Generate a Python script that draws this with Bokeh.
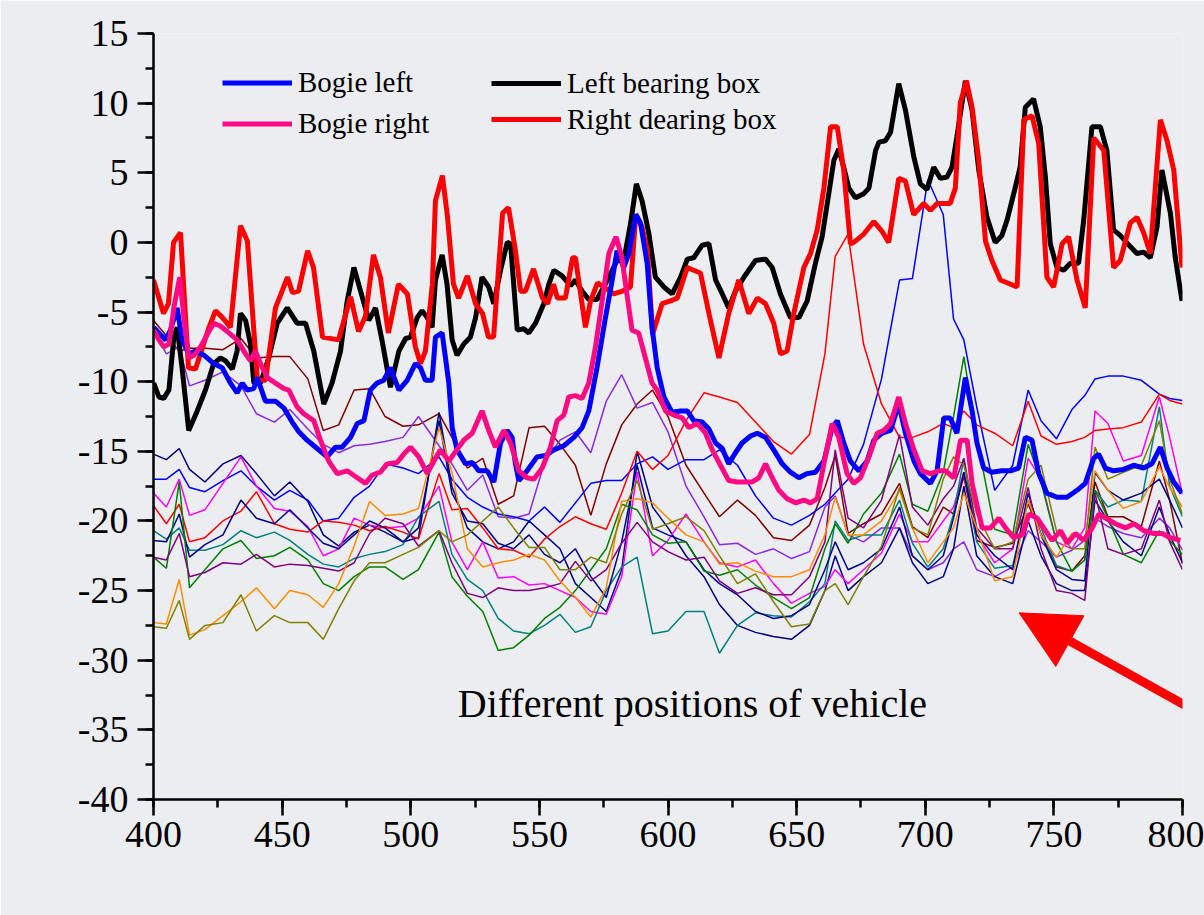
from bokeh.plotting import figure
from bokeh.models import Range1d, Legend, LegendItem, FixedTicker, Label, Arrow, NormalHead
from bokeh.embed import file_html
from bokeh.resources import INLINE

# ---------------- data ----------------
BOGIE_LEFT = [(400.1,-6.1),(402.1,-6.5),(404.7,-7.0),(406.6,-6.3),(409.2,-4.7),(411.1,-7.0),(413.7,-8.0),(416.3,-7.8),(419.6,-8.1),(423.4,-8.7),(426.7,-9.0),(429.9,-10.1),(432.5,-10.8),(434.5,-10.1),(436.4,-10.6),(439,-10.5),(440.3,-9.7),(443.5,-11.4),(447.4,-11.4),(450.7,-11.9),(453.9,-12.9),(456.5,-13.6),(459.7,-14.2),(463.6,-14.8),(467.5,-15.4),(470.7,-14.7),(473.3,-14.7),(476.6,-14.0),(479.2,-13.0),(481.8,-12.8),(484.3,-10.6),(486.9,-10.1),(489.5,-9.9),(492.1,-9.0),(495.4,-10.6),(498.6,-9.9),(501.8,-8.7),(503.8,-9.0),(505.7,-9.9),(508.3,-9.9),(509.6,-6.8),(512.2,-6.5),(514.8,-10.1),(516.1,-13.3),(518,-14.9),(521.3,-15.9),(523.9,-15.8),(526.4,-16.4),(529.7,-16.4),(532.3,-17.2),(534.9,-14.4),(537.5,-13.5),(539.4,-14.0),(540.7,-15.9),(542,-17.1),(545.2,-16.4),(549.1,-15.4),(552.4,-15.3),(555.6,-14.9),(559.5,-14.6),(563.4,-14.0),(566.6,-13.3),(569.2,-12.1),(572.4,-9.0),(575.5,-5.6),(578.3,-2.7),(580.2,-0.6),(582.8,-1.8),(584.8,-0.8),(587.5,2.0),(589.3,1.4),(591.9,-1.5),(593.8,-6.1),(595.8,-9.0),(598.4,-11.1),(601.6,-12.2),(604.9,-12.1),(607.5,-12.1),(610,-12.8),(613.3,-12.9),(615.9,-13.4),(618.5,-14.4),(621.1,-14.8),(623.6,-15.9),(626.2,-15.1),(628.8,-14.4),(632.1,-13.9),(634.7,-13.7),(637.9,-14.0),(641.1,-14.9),(644.4,-15.9),(647.6,-16.5),(650.9,-16.9),(654.1,-16.6),(657.3,-16.5),(660.6,-15.7),(663.8,-13.3),(665.8,-12.8),(668.3,-14.4),(670.9,-15.7),(674.2,-16.4),(677.4,-15.7),(680,-14.2),(683.2,-13.7),(686.5,-13.5),(689.7,-11.6),(692.3,-13.7),(695.6,-15.7),(698.1,-16.6),(702,-17.3),(704.6,-16.4),(707.2,-12.6),(709.7,-12.6),(712.3,-13.7),(715.6,-9.7),(718.2,-12.1),(720.1,-14.4),(722.7,-16.2),(725.9,-16.5),(729.8,-16.4),(733.1,-16.4),(736.3,-16.2),(738.9,-14.0),(741.5,-14.2),(744.1,-16.6),(747.3,-18.0),(751.2,-18.3),(755.1,-18.3),(759,-17.8),(762.2,-17.3),(765.5,-15.5),(767.4,-15.2),(770,-16.2),(773.2,-16.4),(777.1,-16.3),(781,-16.0),(784.9,-16.2),(788.1,-15.9),(791.4,-14.7),(794,-16.2),(796.6,-17.2),(799.8,-18.0)]

BOGIE_RIGHT = [(400.1,-6.3),(402.1,-7.0),(404,-7.5),(406,-7.3),(407.9,-4.7),(410.2,-2.5),(411.8,-5.4),(413.7,-8.3),(415.7,-8.1),(418.3,-7.5),(420.9,-6.6),(423.4,-5.8),(426,-6.0),(429.3,-6.5),(432.5,-7.0),(435.8,-8.0),(437.7,-8.5),(439.6,-7.8),(441.6,-8.7),(444.2,-9.7),(447.4,-10.1),(450.7,-10.5),(452.6,-10.6),(455.8,-11.8),(458.4,-12.3),(462.3,-12.8),(464.9,-14.2),(468.1,-15.7),(471.4,-16.6),(475.3,-16.4),(479.2,-16.9),(482.4,-17.3),(485,-16.7),(488.2,-16.5),(490.8,-15.9),(494.7,-15.8),(497.3,-15.2),(499.9,-14.7),(503.1,-15.4),(506.4,-16.6),(509,-15.7),(511.5,-14.9),(514.8,-15.7),(516.7,-15.2),(520.6,-14.2),(523.9,-13.7),(527.7,-12.1),(530.3,-13.5),(532.9,-14.7),(536.2,-13.5),(538.8,-14.4),(542,-16.4),(545.2,-16.9),(547.8,-17.0),(551.1,-16.2),(554.3,-14.7),(556.9,-12.8),(559.5,-12.4),(561.4,-11.1),(564,-11.0),(566.6,-11.2),(569.2,-10.1),(571.8,-7.5),(574.4,-4.2),(577,-0.8),(579.8,0.4),(582,-1.0),(584.1,-3.8),(586,-6.3),(588.6,-6.5),(591.2,-8.3),(593.8,-10.1),(595.8,-10.6),(599,-12.1),(602.3,-12.4),(605.5,-12.6),(608.1,-13.3),(611.3,-13.0),(614.6,-13.7),(617.2,-14.9),(620.4,-16.0),(623.6,-17.1),(626.9,-17.2),(630.1,-17.2),(632.7,-17.2),(635.3,-16.9),(637.9,-15.9),(640.5,-16.9),(643.1,-17.8),(646.3,-18.4),(649.6,-18.7),(652.8,-18.5),(655.4,-18.7),(658,-18.4),(660.6,-15.9),(663.8,-13.0),(666.4,-14.0),(669.6,-16.6),(672.2,-17.3),(674.8,-16.9),(678.1,-15.4),(681.3,-13.7),(683.9,-13.5),(686.5,-13.0),(689.7,-11.1),(692.3,-13.0),(695.6,-14.9),(698.8,-16.4),(702,-16.6),(705.3,-16.4),(707.9,-16.4),(711.1,-16.9),(713.7,-14.2),(716.3,-14.2),(718.2,-17.3),(722.1,-20.5),(725.4,-20.5),(728.6,-19.8),(731.2,-20.5),(734.4,-21.2),(737.7,-21.0),(740.3,-19.5),(743.5,-19.8),(746.7,-20.7),(749.3,-21.4),(752.6,-20.7),(755.2,-21.6),(758.4,-20.9),(761.6,-21.4),(764.9,-20.5),(767.5,-19.5),(770.1,-19.8),(773.9,-20.2),(777.8,-20.5),(781.1,-20.2),(785,-20.7),(788.8,-20.9),(792.1,-20.9),(795.3,-21.2),(799.2,-21.4)]

LEFT_BEARING = [(400.1,-10.1),(402.1,-11.1),(404,-11.2),(406,-10.6),(407.9,-6.8),(409.2,-6.1),(411.1,-9.0),(413.7,-13.5),(417,-12.1),(420.2,-10.6),(423.4,-8.7),(426,-8.3),(428,-8.5),(430.6,-9.1),(432.5,-7.8),(433.8,-5.1),(435.8,-5.6),(437.7,-7.3),(439,-10.1),(441.6,-10.1),(444.8,-8.3),(448.1,-5.8),(452,-4.7),(455.8,-5.8),(459.1,-5.8),(462.3,-7.8),(466.2,-11.6),(469.4,-10.1),(472.7,-7.8),(475.3,-4.2),(477.9,-1.8),(480.5,-3.5),(483.7,-5.6),(486.3,-4.7),(488.9,-7.1),(492.1,-10.4),(495.4,-7.8),(498,-6.9),(499.9,-6.8),(502.5,-5.4),(504.4,-4.9),(506.4,-5.4),(508.3,-6.1),(509.6,-2.7),(512.2,-0.9),(514.1,-3.0),(516.1,-7.0),(518,-8.1),(520.6,-7.3),(523.2,-6.8),(525.2,-5.4),(527.7,-2.5),(530.3,-3.2),(532.3,-4.4),(534.9,-2.0),(537.5,0.0),(538.8,-0.1),(541.4,-6.3),(543.9,-6.2),(545.9,-6.5),(548.5,-5.8),(551.7,-4.4),(553.7,-3.0),(555.6,-2.0),(558.8,-2.4),(562.1,-3.1),(564,-2.7),(566.6,-3.5),(569.2,-4.1),(572.4,-4.1),(577,-2.5),(580.2,-1.3),(582.8,-1.3),(585.4,1.3),(587.7,4.2),(589.9,3.0),(592.5,0.7),(595.1,-2.5),(598.4,-3.2),(601.6,-3.7),(604.9,-2.5),(607.5,-1.2),(610,-1.1),(613.3,-0.2),(615.9,-0.1),(618.5,-2.7),(621.1,-3.7),(623.6,-4.7),(626.2,-3.5),(629.5,-2.5),(634,-1.3),(637.9,-1.2),(640.5,-1.8),(643.7,-3.7),(647.6,-5.4),(650.9,-5.4),(654.1,-4.2),(657.3,-1.5),(659.9,0.4),(662.5,3.5),(664.5,5.9),(666.4,6.7),(668.3,5.4),(670.3,3.9),(672.9,3.2),(676.1,3.5),(678.1,3.9),(680.7,6.6),(682,7.2),(684.5,7.3),(686.5,7.9),(689.7,11.4),(692.3,9.5),(695.6,6.1),(698.1,4.2),(700.7,3.8),(703.3,5.4),(705.9,4.6),(708.5,4.7),(710.4,5.4),(712.3,7.6),(715.6,11.6),(718.2,9.5),(720.8,5.2),(724,1.8),(727.2,0.0),(729.8,0.5),(731.8,1.6),(734.4,3.5),(736.9,5.4),(738.9,9.7),(742.1,10.3),(744.7,8.3),(746.7,4.7),(748.6,-0.1),(751.2,-1.8),(753.8,-2.0),(756.4,-1.5),(759.6,-1.5),(761.6,1.6),(764.8,8.3),(768.1,8.3),(770.6,6.6),(773.2,0.9),(775.8,0.5),(779.7,-0.3),(782.3,-0.8),(784.9,-0.7),(787.5,-1.1),(790.1,1.1),(792,5.2),(795.3,2.1),(797.2,-1.1),(799.8,-4.2)]

RIGHT_BEARING = [(400,-2.7),(403.9,-5.1),(405.8,-4.4),(407.8,0.0),(410.5,0.7),(413.6,-9.0),(416.3,-9.1),(421.4,-6.2),(424.1,-4.9),(426.8,-5.4),(429.9,-6.1),(433.8,1.2),(436.5,0.1),(440.4,-9.9),(443.5,-9.9),(447.4,-4.7),(452.1,-2.5),(454,-3.6),(456.4,-3.5),(459.9,-0.6),(462.2,-1.8),(465.7,-6.8),(471.9,-7.0),(476.6,-3.9),(479.7,-6.4),(482.4,-5.3),(485.5,-0.9),(488.2,-2.5),(491.3,-6.5),(495.2,-3.0),(498.7,-3.7),(501.8,-7.5),(503.8,-8.7),(505.7,-7.8),(508.4,-3.0),(509.6,3.0),(512.3,4.8),(514.3,1.8),(516.6,-3.0),(518.6,-4.0),(522,-2.4),(525.2,-4.4),(527.9,-5.1),(530.2,-6.8),(532.2,-6.8),(535.7,2.1),(538,2.5),(540.7,-0.6),(542.7,-3.5),(544.6,-3.5),(547.7,-1.9),(551.2,-4.0),(553.2,-4.4),(555.5,-3.0),(557,-4.0),(560.1,-4.0),(562.9,-1.1),(564,-1.1),(567.9,-6.1),(569.9,-4.2),(572.6,-2.9),(575,-3.2),(579,-3.7),(582.2,-3.5),(585.4,-3.2),(587.5,2.0),(589.9,1.1),(592,-0.6),(594,-6.6),(597.7,-4.4),(601,-4.2),(603.6,-4.0),(607.5,-1.8),(610,-2.0),(612.6,-2.2),(616.5,-5.6),(619.8,-8.3),(623.6,-5.1),(627.5,-2.7),(631.4,-5.1),(634.7,-4.0),(637.9,-4.4),(641.1,-5.8),(643.7,-8.0),(646.3,-7.8),(648.9,-5.1),(652.8,-1.8),(655.4,-0.8),(658,0.9),(660.6,3.9),(663.2,8.3),(665.8,8.3),(668.3,5.2),(670.9,-0.1),(672.2,0.0),(676.1,0.6),(680,1.5),(683.2,0.8),(685.8,0.0),(689.7,4.6),(692.3,4.4),(695.5,2.0),(699.4,2.8),(702,2.3),(704.6,2.8),(709.7,2.8),(711.7,3.9),(713.6,10.0),(716,11.6),(718.2,9.7),(720.8,5.9),(723.4,0.1),(725.9,-1.3),(729.2,-2.7),(731.8,-2.9),(735.7,-3.2),(738.3,8.8),(741.5,9.1),(744.1,7.1),(747.3,-2.5),(749.9,-3.2),(753.2,-0.1),(755.7,0.4),(759,-2.7),(762.2,-4.7),(765.5,7.5),(769.4,6.6),(773.2,-1.8),(775.8,-1.3),(779.7,1.4),(782.3,1.8),(784.9,0.7),(787.5,-0.8),(791.4,8.8),(794,7.3),(796.6,5.2),(799.8,-1.8)]

# thin curves: other positions of the vehicle, sampled at common positions
POS = [400,405,410,414,420,427,434,440,447,453,460,466,472,478,484,490,497,503,511,516,522,528,534,540,546,552,558,564,570,576,582,588,594,600,607,614,620,627,634,641,648,655,661,665,670,676,683,690,695,701,707,711,715,720,727,734,740,745,751,757,762,766,771,777,784,791,795,800]

P_MAROON = [-5.6,-6.7,-7.8,-7.6,-7.6,-7.7,-6.9,-8.3,-8.2,-8.2,-9.8,-13.5,-13.1,-10.6,-10.5,-12.5,-13.2,-13.1,-12.3,-14.0,-16.2,-15.5,-18.8,-18.2,-13.3,-13.2,-14.5,-16.0,-19.6,-15.9,-13.1,-11.6,-10.6,-12.5,-16.0,-18.0,-19.7,-18.5,-19.6,-21.2,-21.4,-20.3,-17.6,-15.3,-20.9,-20.2,-19.5,-17.3,-20.4,-21.2,-19.0,-19.5,-16.8,-21.4,-21.9,-21.6,-18.8,-20.9,-23.3,-23.6,-22.5,-17.2,-19.7,-19.7,-20.4,-15.7,-18.5,-23.1]
P_VIOLET = [-6.3,-8.0,-7.5,-10.3,-9.9,-9.3,-10.3,-12.3,-12.9,-12.0,-13.4,-14.5,-15.1,-14.6,-14.5,-14.3,-14.0,-12.5,-14.6,-15.9,-17.8,-16.7,-19.7,-19.8,-19.5,-15.8,-14.2,-13.6,-15.1,-11.4,-9.5,-11.9,-11.5,-13.6,-17.5,-19.7,-21.7,-21.6,-22.4,-22.0,-22.7,-22.2,-19.0,-18.2,-21.0,-21.5,-20.5,-20.5,-22.5,-23.5,-23.0,-22.0,-21.5,-23.5,-24.0,-23.3,-20.7,-21.5,-22.6,-22.1,-21.4,-19.8,-20.4,-20.9,-21.2,-19.8,-20.5,-22.1]
P_NAVY = [-15.2,-15.6,-14.8,-16.3,-17.2,-15.9,-15.3,-16.6,-18.2,-17.2,-18.6,-21.0,-21.8,-20.8,-20.3,-20.8,-21.5,-21.2,-12.2,-17.5,-20.5,-21.5,-22.0,-21.5,-20.0,-21.0,-22.0,-24.5,-25.5,-26.5,-23.5,-15.0,-19.0,-20.5,-22.5,-24.0,-26.0,-27.5,-28.0,-28.3,-28.5,-27.5,-25.0,-22.5,-25.0,-24.0,-23.0,-20.5,-23.0,-24.5,-24.0,-22.0,-17.5,-22.5,-24.0,-24.5,-20.0,-22.5,-24.5,-25.0,-25.0,-18.5,-20.0,-21.5,-22.5,-19.0,-21.0,-23.0]
P_BLUE = [-17.0,-17.0,-16.3,-17.6,-17.9,-17.1,-16.4,-17.5,-18.5,-17.8,-18.5,-20.0,-19.8,-18.3,-17.5,-15.9,-16.2,-16.6,-15.4,-17.0,-18.3,-19.0,-19.5,-19.7,-20.0,-19.0,-20.1,-18.7,-17.3,-17.1,-17.1,-15.9,-15.4,-16.3,-15.6,-15.6,-14.9,-16.0,-18.2,-19.8,-20.3,-19.6,-18.8,-18.0,-17.0,-14.5,-9.8,-2.7,-2.6,4.5,2.0,-5.5,-7.0,-11.8,-17.8,-16.0,-10.6,-12.8,-14.1,-12.0,-11.0,-9.8,-9.6,-9.6,-9.9,-10.9,-11.2,-11.35]
P_MAGENTA = [-18.0,-19.0,-17.0,-19.6,-19.2,-17.3,-15.4,-17.5,-19.1,-19.3,-20.4,-22.5,-22.0,-19.8,-20.3,-20.5,-20.4,-19.8,-17.5,-21.5,-23.5,-21.5,-24.1,-24.0,-24.6,-24.5,-25.0,-25.5,-26.5,-26.7,-24.0,-16.5,-22.5,-21.4,-19.5,-21.5,-23.0,-23.3,-22.8,-24.5,-25.9,-25.2,-24.7,-23.5,-24.5,-23.5,-22.3,-19.5,-21.5,-21.5,-20.0,-19.0,-16.5,-21.0,-23.0,-22.0,-15.5,-17.0,-21.5,-22.0,-20.5,-12.1,-13.0,-15.7,-15.3,-11.1,-14.0,-18.1]
P_RED = [-18.9,-20.2,-18.8,-21.5,-21.2,-20.0,-19.3,-17.9,-20.2,-20.6,-20.8,-20.0,-20.1,-20.3,-20.7,-20.4,-20.8,-21.3,-16.6,-19.2,-19.1,-20.5,-22.0,-22.1,-22.6,-21.3,-20.4,-19.7,-20.2,-20.6,-18.0,-15.0,-16.3,-15.3,-12.8,-10.8,-11.1,-11.5,-12.9,-14.3,-15.2,-13.8,-8.0,-1.0,0.6,-7.3,-11.6,-14.0,-14.0,-13.6,-13.0,-13.3,-12.1,-13.1,-13.7,-14.6,-11.4,-13.9,-14.5,-14.3,-14.0,-13.5,-13.4,-13.3,-12.9,-10.9,-11.35,-11.6]
P_TEAL = [-20.7,-21.3,-20.5,-22.1,-22.1,-21.7,-20.7,-21.2,-20.8,-21.4,-22.4,-23.1,-23.3,-22.7,-22.4,-22.2,-21.7,-19.7,-18.6,-22.4,-24.2,-25.0,-27.0,-27.9,-28.1,-27.5,-26.7,-28.0,-27.6,-25.0,-23.3,-22.6,-28.1,-27.9,-26.5,-26.5,-29.5,-27.5,-26.6,-26.8,-26.9,-25.8,-24.5,-20.0,-21.4,-21.0,-21.0,-18.5,-21.6,-23.3,-22.0,-19.5,-15.5,-21.5,-23.4,-23.2,-18.5,-20.5,-23.2,-23.6,-22.8,-17.8,-19.0,-18.5,-18.6,-11.8,-17.5,-19.7]
P_DARKBLUE = [-21.4,-21.5,-19.5,-22.6,-21.7,-21.0,-18.5,-19.8,-20.2,-19.2,-20.5,-21.6,-22.0,-21.0,-20.0,-20.5,-21.5,-20.5,-12.8,-18.0,-20.0,-20.2,-21.6,-22.0,-21.0,-22.4,-23.0,-22.0,-24.0,-25.5,-21.5,-16.0,-20.5,-21.0,-21.5,-23.5,-24.5,-25.3,-26.5,-27.0,-26.8,-26.0,-23.5,-21.5,-23.5,-23.0,-22.0,-19.0,-22.5,-23.5,-22.5,-19.8,-16.5,-21.0,-22.5,-23.5,-18.0,-21.0,-23.5,-24.2,-24.3,-16.5,-17.8,-18.5,-18.0,-17.0,-18.5,-20.5]
P_GREEN = [-22.6,-23.4,-17.2,-24.8,-23.5,-22.0,-21.4,-22.7,-22.5,-21.9,-22.8,-24.5,-25.0,-24.0,-23.3,-23.3,-24.2,-23.5,-20.8,-24.0,-25.4,-26.5,-29.3,-29.1,-28.2,-27.0,-26.2,-25.0,-23.5,-22.0,-18.8,-19.2,-21.0,-21.6,-21.5,-23.6,-23.9,-23.5,-24.6,-25.5,-26.3,-25.5,-22.0,-20.2,-21.6,-19.5,-18.0,-15.2,-18.8,-19.3,-16.5,-12.5,-8.2,-14.0,-20.6,-21.0,-14.5,-17.2,-21.5,-23.6,-22.8,-17.8,-19.8,-22.4,-23.0,-20.7,-21.4,-22.4]
P_PURPLE = [-22.6,-22.8,-20.9,-24.0,-23.7,-23.0,-23.1,-22.4,-23.3,-23.1,-23.2,-23.4,-23.6,-23.0,-20.9,-19.8,-20.2,-21.8,-20.7,-23.0,-25.2,-25.5,-24.8,-25.0,-25.0,-24.8,-24.5,-22.9,-24.3,-23.5,-21.6,-20.1,-21.5,-22.2,-22.8,-22.6,-24.3,-25.2,-24.8,-25.3,-25.3,-24.0,-21.5,-14.9,-19.8,-20.5,-18.5,-13.8,-19.0,-20.3,-18.4,-17.5,-15.5,-20.5,-22.0,-22.0,-17.6,-22.0,-25.0,-25.2,-25.7,-18.0,-22.0,-22.4,-22.0,-18.5,-21.5,-23.5]
P_ORANGE = [-27.3,-27.4,-24.2,-28.2,-27.8,-26.8,-25.8,-24.8,-26.3,-25.0,-25.3,-26.2,-24.5,-21.8,-18.6,-19.6,-19.5,-19.1,-13.3,-16.5,-22.0,-23.3,-23.0,-22.8,-22.4,-22.8,-24.3,-25.5,-26.9,-24.8,-18.6,-18.4,-18.7,-19.8,-21.0,-21.5,-23.1,-23.0,-23.6,-24.0,-24.0,-23.5,-21.0,-18.3,-21.0,-21.0,-20.0,-17.8,-20.5,-23.0,-21.5,-20.5,-18.0,-20.5,-24.3,-24.0,-18.5,-21.0,-22.6,-20.9,-21.4,-16.4,-17.8,-19.1,-18.6,-16.1,-17.6,-19.0]
P_OLIVE = [-27.6,-27.7,-25.7,-28.5,-27.5,-27.3,-25.3,-27.9,-26.8,-27.3,-27.3,-28.5,-26.3,-24.3,-23.0,-23.0,-22.4,-21.9,-20.7,-21.5,-21.0,-20.0,-19.0,-20.5,-21.9,-21.9,-23.5,-23.5,-22.6,-23.0,-19.5,-17.1,-20.6,-20.2,-19.7,-20.7,-22.5,-24.5,-23.8,-25.8,-27.6,-27.4,-25.0,-24.5,-26.0,-24.0,-21.8,-17.6,-20.5,-21.0,-17.0,-15.4,-16.0,-19.5,-22.0,-21.5,-17.0,-16.0,-20.7,-22.0,-22.0,-14.7,-17.0,-16.5,-16.0,-12.8,-17.0,-19.5]

THIN = [
    (P_MAROON, "#800000"), (P_VIOLET, "#8A2BE2"), (P_NAVY, "#000080"),
    (P_BLUE, "#0000FF"), (P_MAGENTA, "#FF00FF"), (P_RED, "#FF0000"),
    (P_TEAL, "#008080"), (P_DARKBLUE, "#00008B"), (P_GREEN, "#008000"),
    (P_PURPLE, "#800080"), (P_ORANGE, "#FF8C00"), (P_OLIVE, "#808000"),
]
for ys, _ in THIN:
    assert len(ys) == len(POS), len(ys)

X_TICKS = [400, 450, 500, 550, 600, 650, 700, 750, 800]
Y_TICKS = [-40, -35, -30, -25, -20, -15, -10, -5, 0, 5, 10, 15]

BG = "#ECEDF1"
FONT = "Liberation Serif"

p = figure(width=1204, height=915, x_range=Range1d(400, 800), y_range=Range1d(-40, 15),
           output_backend="svg", toolbar_location=None,
           min_border_left=153, min_border_right=22, min_border_top=33, min_border_bottom=116,
           background_fill_color=BG, border_fill_color=BG, outline_line_color=None)
p.xgrid.visible = False
p.ygrid.visible = False

p.xaxis.ticker = FixedTicker(ticks=X_TICKS, minor_ticks=[400 + 25 * i for i in range(17)])
p.yaxis.ticker = FixedTicker(ticks=Y_TICKS, minor_ticks=[-40 + 2.5 * i for i in range(23)])
p.yaxis.major_label_overrides = {v: str(v) for v in Y_TICKS}
p.xaxis.major_label_overrides = {v: str(v) for v in X_TICKS}
for ax in (p.xaxis[0], p.yaxis[0]):
    ax.axis_line_color = "black"
    ax.axis_line_width = 2.5
    ax.major_tick_line_color = "black"
    ax.major_tick_line_width = 2.5
    ax.minor_tick_line_color = "black"
    ax.minor_tick_line_width = 2.5
    ax.major_tick_in = 0
    ax.minor_tick_in = 0
    ax.major_tick_out = 16
    ax.minor_tick_out = 8
    ax.major_label_text_font = FONT
    ax.major_label_text_font_size = "38px"
    ax.major_label_text_color = "black"
p.yaxis[0].major_label_standoff = 9
p.xaxis[0].major_label_standoff = 6

# thin curves
for ys, col in THIN:
    p.line(POS, ys, line_color=col, line_width=1.5)

def xy(pts):
    return [a for a, _ in pts], [b for _, b in pts]

bx, by = xy(LEFT_BEARING)
r_black = p.line(bx, by, line_color="black", line_width=5)
rx, ry = xy(RIGHT_BEARING)
r_red = p.line(rx, ry, line_color="#FF0000", line_width=5)
blx, bly = xy(BOGIE_LEFT)
r_blue = p.line(blx, bly, line_color="#0000FF", line_width=5)
prx, pry = xy(BOGIE_RIGHT)
r_pink = p.line(prx, pry, line_color="#FF0A82", line_width=5)

common = dict(orientation="vertical", glyph_width=70, spacing=0, padding=0, margin=0,
              label_standoff=6, label_text_font=FONT, label_text_font_size="29px",
              label_text_color="black", border_line_color=None, background_fill_alpha=0)
leg1 = Legend(items=[LegendItem(label="Bogie left", renderers=[r_blue]),
                     LegendItem(label="Bogie right", renderers=[r_pink])],
              location=(69, 655), glyph_height=41, label_height=41, **common)
leg2 = Legend(items=[LegendItem(label="Left bearing box", renderers=[r_black]),
                     LegendItem(label="Right dearing box", renderers=[r_red])],
              location=(338, 662), glyph_height=36, label_height=36, **common)
p.add_layout(leg1)
p.add_layout(leg2)

p.add_layout(Label(x=609.5, y=-33.1, text="Different positions of vehicle",
                   text_align="center", text_baseline="middle",
                   text_font=FONT, text_font_size="40px", text_color="black"))

# pointer arrow (starts just beyond the right edge of the frame, like the slide)
p.add_layout(Arrow(end=NormalHead(size=58, fill_color="#FF0000", line_color="#FF0000"),
                   x_start=808.5, y_start=-34.0, x_end=736.5, y_end=-26.6,
                   line_color="#FF0000", line_width=9))

open("out.html", "w").write(file_html(p, INLINE))
